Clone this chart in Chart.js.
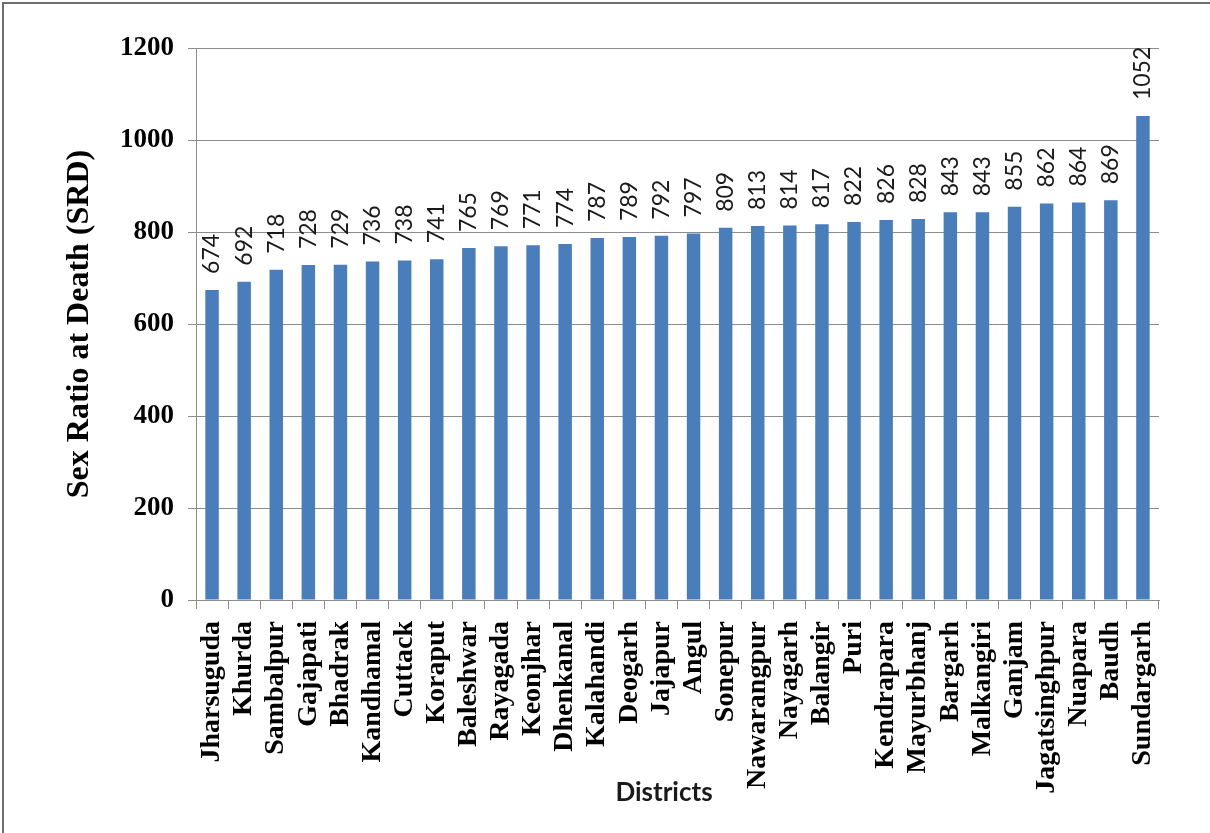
<!DOCTYPE html>
<html>
<head>
<meta charset="utf-8">
<script src="https://cdn.jsdelivr.net/npm/chart.js@4/dist/chart.umd.min.js"></script>
<style>
html,body{margin:0;padding:0;background:#fff;}
#wrap{width:1210px;height:833px;position:relative;}
</style>
</head>
<body>
<div id="wrap"><canvas id="c" width="1210" height="833"></canvas></div>
<script>
const districts = ["Jharsuguda","Khurda","Sambalpur","Gajapati","Bhadrak","Kandhamal","Cuttack","Koraput","Baleshwar","Rayagada","Keonjhar","Dhenkanal","Kalahandi","Deogarh","Jajapur","Angul","Sonepur","Nawarangpur","Nayagarh","Balangir","Puri","Kendrapara","Mayurbhanj","Bargarh","Malkangiri","Ganjam","Jagatsinghpur","Nuapara","Baudh","Sundargarh"];
const srdValues = [674,692,718,728,729,736,738,741,765,769,771,774,787,789,792,797,809,813,814,817,822,826,828,843,843,855,862,864,869,1052];
const yTicks = [0,200,400,600,800,1000,1200];
const xTitle = 'Districts';
const yTitle = 'Sex Ratio at Death (SRD)';

const frame = {
  id:'frame',
  beforeDraw(chart){
    const ctx = chart.ctx;
    ctx.save();
    ctx.fillStyle = '#fff';
    ctx.fillRect(0,0,chart.width,chart.height);
    ctx.strokeStyle = '#6e6e6e';
    ctx.lineWidth = 2;
    ctx.beginPath();
    ctx.moveTo(3, chart.height);
    ctx.lineTo(3, 3);
    ctx.lineTo(chart.width, 3);
    ctx.stroke();
    ctx.restore();
  },
  afterDraw(chart){
    const ctx = chart.ctx;
    ctx.save();
    ctx.font = 'bold 26px Lato, "Liberation Sans", sans-serif';
    ctx.fillStyle = '#1a1a1a';
    ctx.textAlign = 'center';
    ctx.textBaseline = 'middle';
    ctx.fillText(xTitle, 664, 793);
    ctx.restore();
  }
};

const barLabels = {
  id:'barLabels',
  afterDatasetsDraw(chart){
    const ctx = chart.ctx;
    const meta = chart.getDatasetMeta(0);
    ctx.save();
    ctx.font = '23px Lato, "Liberation Sans", sans-serif';
    ctx.fillStyle = '#1a1a1a';
    ctx.textAlign = 'left';
    ctx.textBaseline = 'middle';
    meta.data.forEach((bar, i) => {
      ctx.save();
      ctx.translate(bar.x, bar.y - 16);
      ctx.rotate(-Math.PI/2);
      ctx.fillText(String(srdValues[i]), 0, 0);
      ctx.restore();
    });
    ctx.restore();
  }
};

new Chart(document.getElementById('c'), {
  type: 'bar',
  data: {
    labels: districts,
    datasets: [{
      data: srdValues,
      backgroundColor: '#4a7ebb',
      borderWidth: 0,
      categoryPercentage: 1.0,
      barPercentage: 0.42
    }]
  },
  options: {
    responsive: false,
    animation: false,
    devicePixelRatio: 1,
    layout: { padding: { top: 48, right: 51, left: 0, bottom: 0 } },
    plugins: { legend: { display: false }, tooltip: { enabled: false } },
    scales: {
      x: {
        afterFit(s){ s.height = 833 - 600; },
        grid: { display: true, offset: true, drawOnChartArea: false, drawTicks: true, tickLength: 9, color: '#8c8c8c' },
        border: { display: true, color: '#8c8c8c', width: 1 },
        ticks: {
          minRotation: 90, maxRotation: 90, autoSkip: false, padding: 12,
          color: '#000',
          font: { family: '"Liberation Serif", "Times New Roman", serif', size: 28, weight: 'bold' }
        },
        title: { display: false }
      },
      y: {
        min: 0, max: 1200,
        afterFit(s){ s.width = 196; },
        afterBuildTicks(s){ s.ticks = yTicks.map(v => ({ value: v })); },
        grid: { color: '#8c8c8c', lineWidth: 1, tickLength: 8 },
        border: { display: true, color: '#8c8c8c', width: 1 },
        ticks: {
          padding: 14, color: '#000',
          callback: (v) => String(v),
          font: { family: '"Liberation Serif", "Times New Roman", serif', size: 27, weight: 'bold' }
        },
        title: {
          display: true, text: yTitle, color: '#000',
          font: { family: '"Liberation Serif", "Times New Roman", serif', size: 32, weight: 'bold' },
          padding: { top: 61, bottom: 0 }
        }
      }
    }
  },
  plugins: [frame, barLabels]
});
</script>
</body>
</html>
